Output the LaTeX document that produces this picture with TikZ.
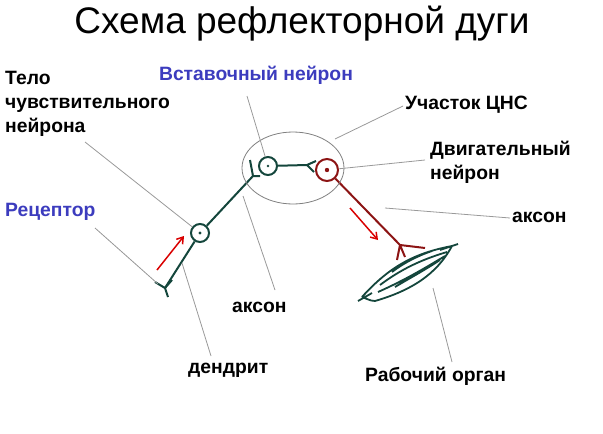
\documentclass[tikz,border=0pt]{standalone}
\usepackage{fontspec}
\setmainfont{Liberation Sans}
\usetikzlibrary{arrows.meta}
\definecolor{gcol}{RGB}{20,70,60}
\definecolor{rcol}{RGB}{140,20,20}
\definecolor{bcol}{RGB}{60,60,190}
\begin{document}
\begin{tikzpicture}[x=1pt,y=-1pt,
 lab/.style={font=\bfseries\fontsize{19.3}{24}\selectfont,anchor=west,inner sep=0,align=left},
 blue/.style={text=bcol},
 lead/.style={gray!80,line width=0.8},
 grn/.style={draw=gcol,line width=2},
 red1/.style={draw=rcol,line width=2},
 arr/.style={red!85!black,line width=1.5,-{Straight Barb[length=6pt,width=8pt]}}]
\useasboundingbox (0,0) rectangle (603,434);
\node[font=\fontsize{37}{40}\selectfont] (title) at (302,24) {Схема рефлекторной дуги};
\node[lab] (tel) at (5,104) {Тело\\чувствительного\\нейрона};
\node[lab,blue,anchor=center] (vst) at (256,75) {Вставочный нейрон};
\node[lab] (cns) at (405,105) {Участок ЦНС};
\node[lab] (dvig) at (430,162) {Двигательный\\нейрон};
\node[lab,blue] (rec) at (5,212) {Рецептор};
\node[lab] (ax1) at (512,217) {аксон};
\node[lab] (ax2) at (232,307) {аксон};
\node[lab] (den) at (188,370) {дендрит};
\node[lab] (rab) at (365,376) {Рабочий орган};
% structures
\node[grn,circle,minimum size=18,inner sep=0] (s) at (200,233) {};
\fill[gcol] (s) circle (1.6);
\node[grn,circle,minimum size=18,inner sep=0] (i) at (268,166) {};
\fill[gcol] (i) circle (1.3);
\node[red1,circle,minimum size=22,inner sep=0] (m) at (327,170) {};
\fill[rcol] (m) circle (2.2);
\coordinate (dend) at (165,288);
\coordinate (f1) at (253,176);
\coordinate (syn) at (307,165);
\coordinate (mf) at (400,245);
\draw[grn] (s) -- (dend);
\draw[grn] (dend) -- (155,282) (dend) -- (172,280) (dend) -- (168,297);
\draw[grn] (s) -- (f1);
\draw[grn] (f1) -- (250,160) (f1) -- (260,176);
\draw[grn] (i) -- (syn);
\draw[grn] (syn) -- (316,161) (syn) -- (314,172);
\draw[red1] (m) -- (mf);
\draw[red1] (mf) -- (397,260) (mf) -- (405,257) (mf) -- (425,248);
% muscle
\draw[grn,line width=1.8] (362,297) .. controls (390,266) and (415,253) .. (452,246)
 .. controls (440,268) and (420,288) .. (375,301) .. controls (372,301) .. (362,297)
 (358,301) -- (372,293) (440,250) -- (458,244)
 (380,285) .. controls (400,270) and (420,260) .. (447,252)
 (378,292) .. controls (405,280) and (425,268) .. (445,256)
 (392,272) .. controls (405,262) and (420,255) .. (432,251)
 (395,287) .. controls (410,278) and (425,270) .. (440,260);
\draw[arr] (157,270) -- (184,236);
\draw[arr] (350,208) -- (378,240);
\draw[gray,line width=0.8] (293,168) ellipse (51 and 36);
% leaders
\draw[lead] (85,142) -- (s);
\draw[lead] (95,228) -- (158,284);
\draw[lead] (247,96) -- (i);
\draw[lead] (403,106) -- (335,139);
\draw[lead] (425,160) -- (m);
\draw[lead] (510,218) -- (385,208);
\draw[lead] (275,290) -- (243,196);
\draw[lead] (211,356) -- (182,263);
\draw[lead] (452,362) -- (433,288);
\end{tikzpicture}
\end{document}
